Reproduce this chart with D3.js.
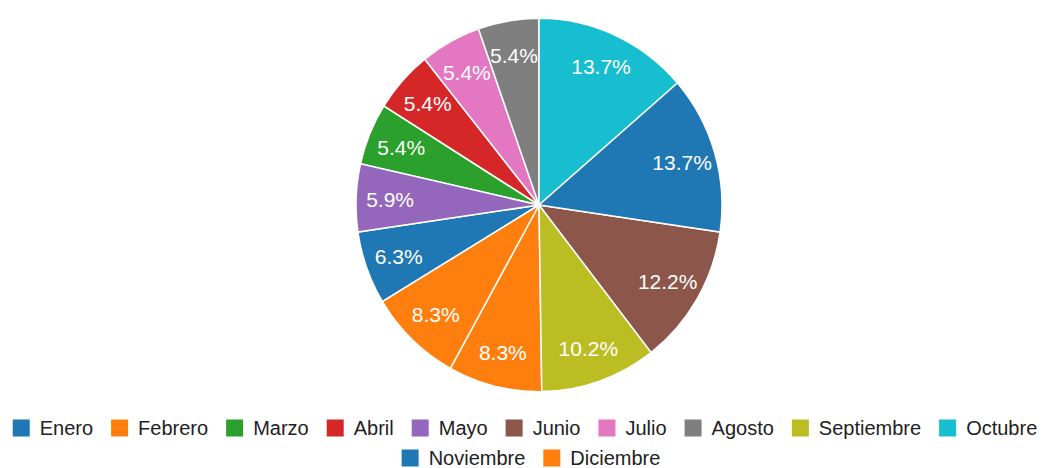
<html>
<head>
<style>
  body { margin: 0; background: #fff; }
  svg { display: block; font-family: "Liberation Sans", Arial, sans-serif; }
</style>
</head>
<body>
<svg class="svg"></svg>
<script src="https://d3js.org/d3.v7.min.js"></script>
<script>
    var width = 1046, height = 468;

    // months and counts (total 205)
    var months = ["Enero", "Febrero", "Marzo", "Abril", "Mayo", "Junio",
                  "Julio", "Agosto", "Septiembre", "Octubre", "Noviembre", "Diciembre"];
    var counts = [13, 17, 11, 11, 12, 25, 11, 11, 21, 28, 28, 17];
    var colors = ["#1f77b4", "#ff7f0e", "#2ca02c", "#d62728", "#9467bd", "#8c564b",
                  "#e377c2", "#7f7f7f", "#bcbd22", "#17becf", "#1f77b4", "#ff7f0e"];

    var svg = d3.select("svg")
        .attr("width", width)
        .attr("height", height);

    // the reference pie is a touch taller than wide
    var cx = 539, cy = 205, radius = 183, sy = 1.02, labelR = 149;
    var total = d3.sum(counts);

    var data = months.map((m, i) => ({month: m, value: counts[i], color: colors[i]}));

    var pie = d3.pie()
        .value(d => d.value)
        .sort((a, b) => b.value - a.value);

    var arc = d3.arc().innerRadius(0).outerRadius(radius);
    var labelArc = d3.arc().innerRadius(labelR).outerRadius(labelR);

    var arcs = pie(data);

    svg.append("g")
        .attr("transform", "translate(" + cx + "," + cy + ") scale(1," + sy + ")")
        .selectAll("path")
        .data(arcs)
        .enter()
        .append("path")
        .attr("d", arc)
        .attr("fill", d => d.data.color)
        .attr("stroke", "#fff")
        .attr("stroke-width", 1.5);

    svg.append("g")
        .attr("transform", "translate(" + cx + "," + cy + ")")
        .selectAll("text")
        .data(arcs)
        .enter()
        .append("text")
        .attr("transform", function(d) {
            var c = labelArc.centroid(d);
            return "translate(" + c[0] + "," + (c[1] * sy) + ")";
        })
        .attr("text-anchor", "middle")
        .attr("dy", "0.36em")
        .attr("fill", "#fff")
        .style("font-size", "21px")
        .text(d => (d.data.value / total * 100).toFixed(1) + "%");

    // Legend
    var sq = 17, sqGap = 10, itemGap = 18, rowH = 30, maxW = 1040;
    var legend = svg.append("g").attr("id", "legend");

    var items = legend.selectAll("g.legend_entry")
        .data(data)
        .enter().append("g")
        .attr("class", "legend_entry");

    items.append("rect")
        .attr("width", sq)
        .attr("height", sq)
        .attr("y", -sq / 2)
        .attr("fill", d => d.color);

    items.append("text")
        .attr("x", sq + sqGap)
        .attr("dy", "0.36em")
        .attr("fill", "#222")
        .style("font-size", "20px")
        .text(d => d.month);

    // wrap into rows
    var rows = [[]], rowW = [0];
    items.each(function(d) {
        var w = sq + sqGap + this.querySelector("text").getComputedTextLength();
        var r = rows.length - 1;
        var add = rows[r].length ? itemGap + w : w;
        if (rowW[r] + add > maxW) {
            rows.push([]); rowW.push(0); r++; add = w;
        }
        rows[r].push({node: this, w: w});
        rowW[r] += add;
    });

    rows.forEach(function(row, r) {
        var x = (width - rowW[r]) / 2 + 2 + r * 6;
        row.forEach(function(it) {
            d3.select(it.node).attr("transform", "translate(" + x + "," + (428 + r * rowH) + ")");
            x += it.w + itemGap;
        });
    });
</script>
</body>
</html>
